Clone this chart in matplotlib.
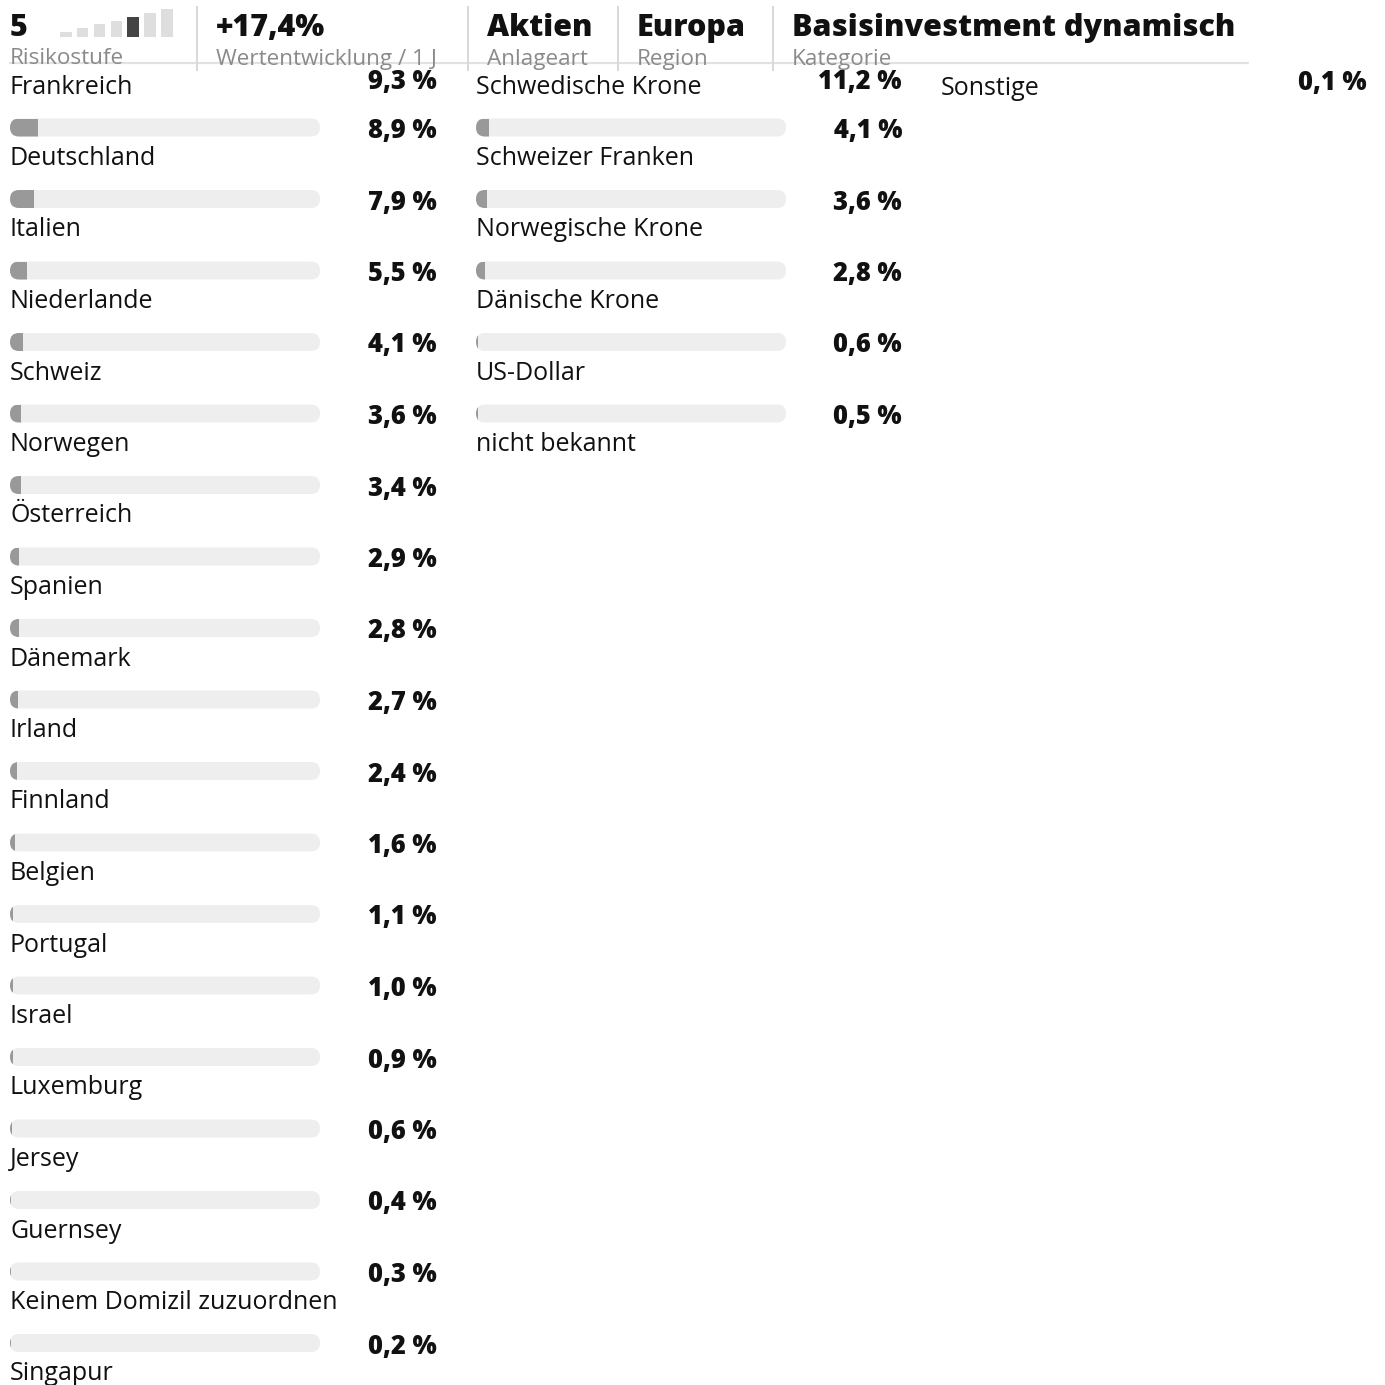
import matplotlib
matplotlib.use("Agg")
import matplotlib.pyplot as plt
from matplotlib.patches import FancyBboxPatch, Rectangle

# ---------------------------------------------------------------------------
# Data
# ---------------------------------------------------------------------------
countries = ["Frankreich", "Deutschland", "Italien", "Niederlande", "Schweiz",
             "Norwegen", "Österreich", "Spanien", "Dänemark", "Irland",
             "Finnland", "Belgien", "Portugal", "Israel", "Luxemburg",
             "Jersey", "Guernsey", "Keinem Domizil zuzuordnen", "Singapur"]
country_values = [9.3, 8.9, 7.9, 5.5, 4.1, 3.6, 3.4, 2.9, 2.8, 2.7,
                  2.4, 1.6, 1.1, 1.0, 0.9, 0.6, 0.4, 0.3, 0.2]

currencies = ["Schwedische Krone", "Schweizer Franken", "Norwegische Krone",
              "Dänische Krone", "US-Dollar", "nicht bekannt"]
currency_values = [11.2, 4.1, 3.6, 2.8, 0.6, 0.5]

others = ["Sonstige"]
other_values = [0.1]

risk_level = 5
risk_levels = 7
header_values = ["5", "+17,4%", "Aktien", "Europa", "Basisinvestment dynamisch"]
header_captions = ["Risikostufe", "Wertentwicklung / 1 J", "Anlageart", "Region",
                   "Kategorie"]

# ---------------------------------------------------------------------------
# Style (pixel units, figure is 1385 x 1385 px)
# ---------------------------------------------------------------------------
W = H = 1385
PT = 0.72                      # px -> pt at dpi 100
FONT = "Open Sans"
TRACK = "#eeeeee"
FILL = "#999999"
TEXT = "#111111"
CAPTION = "#8a8a8a"
LINE = "#e2e2e2"

ROW_STEP = 71.5
FIRST_BAR_Y = 56.0             # hidden behind the sticky header
BAR_W = 310
BAR_H = 18

fig = plt.figure(figsize=(W / 100, H / 100), dpi=100)
ax = fig.add_axes([0, 0, 1, 1])
ax.set_xlim(0, W)
ax.set_ylim(H, 0)
ax.set_axis_off()


def draw_column(labels, values, x0, value_x, label_dy=37.5, value_dy=10.5,
                first_value_y=89):
    for i, (lab, val) in enumerate(zip(labels, values)):
        yc = FIRST_BAR_Y + i * ROW_STEP
        track = FancyBboxPatch((x0, yc - BAR_H / 2), BAR_W, BAR_H,
                               boxstyle=f"round,pad=0,rounding_size={BAR_H / 2}",
                               facecolor=TRACK, edgecolor="none", zorder=1)
        ax.add_patch(track)
        bars = ax.barh([yc], [val / 100 * BAR_W], left=x0, height=BAR_H,
                       color=FILL, zorder=2)
        for p in bars.patches:
            p.set_clip_path(track)
        ax.text(x0, yc + label_dy, lab, fontsize=25 * PT, family=FONT,
                color=TEXT, ha="left", va="baseline", zorder=3)
        vy = first_value_y if i == 0 else yc + value_dy
        txt = f"{val:.1f}".replace(".", ",") + " %"
        ax.text(value_x, vy, txt, fontsize=25.5 * PT, family=FONT,
                fontweight=800, color=TEXT, ha="right", va="baseline",
                zorder=3)


draw_column(countries, country_values, 10, 437)
draw_column(currencies, currency_values, 476, 902)
draw_column(others, other_values, 941, 1367, label_dy=39, first_value_y=90)

# ---------------------------------------------------------------------------
# Sticky header (white band covering the first bars)
# ---------------------------------------------------------------------------
ax.add_patch(Rectangle((0, 0), W, 67, facecolor="white", edgecolor="none",
                       zorder=10))
ax.plot([10, 1248], [62.5, 62.5], color=LINE, lw=2.2 * PT,
        solid_capstyle="round", zorder=11)
for sx in [197, 468, 618, 773]:
    ax.plot([sx, sx], [7, 70], color="#d9d9d9", lw=2 * PT, zorder=11)

head_x = [10, 216, 487, 637, 792]
for hx, hv, hc in zip(head_x, header_values, header_captions):
    ax.text(hx, 36, hv, fontsize=30.5 * PT, family=FONT, fontweight=800,
            color=TEXT, ha="left", va="baseline", zorder=12)
    ax.text(hx, 64.5, hc, fontsize=22.5 * PT, family=FONT, color=CAPTION,
            ha="left", va="baseline", zorder=12)

# risk level indicator
for k in range(risk_levels):
    top = 32 - 3.8 * k
    ax.add_patch(Rectangle((60 + 16.85 * k, top), 11.5, 37 - top,
                           facecolor="#444444" if k + 1 == risk_level else "#dedede",
                           edgecolor="none", zorder=12))

fig.savefig("out.png", dpi=100)
